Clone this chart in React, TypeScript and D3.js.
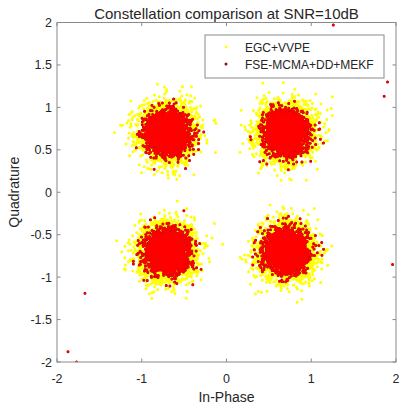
import React, { useMemo } from "react";
import * as d3 from "d3";

// ---- data ----
const title = "Constellation comparison at SNR=10dB";
const xLabel = "In-Phase";
const yLabel = "Quadrature";
const seriesNames = ["EGC+VVPE", "FSE-MCMA+DD+MEKF"];
const xTicks = [-2, -1, 0, 1, 2];
const yTicks = [-2, -1.5, -1, -0.5, 0, 0.5, 1, 1.5, 2];
// QPSK constellation centres (I, Q)
const centresI = [-0.7, 0.7, -0.7, 0.7];
const centresQ = [0.7, 0.7, -0.7, -0.7];
// cloud spread and count per cluster
const egcSigma = 0.16;
const egcCount = 3000;
const fseSigma = 0.115;
const fseCount = 3000;
// isolated FSE outliers
const fseOutI = [-1.87, -1.77, -1.67, 1.26, 1.56, 1.9, 1.86, 1.96];
const fseOutQ = [-1.88, -2.0, -1.19, 1.97, 1.36, 1.3, 1.13, -0.85];

function cloud(seed: number, sigma: number, n: number) {
  const rng = d3.randomLcg(seed);
  const norm = d3.randomNormal.source(rng)(0, sigma);
  const pts: [number, number][] = [];
  centresI.forEach((ci, k) => {
    for (let j = 0; j < n; j++) pts.push([ci + norm(), centresQ[k] + norm()]);
  });
  return pts;
}

function dots(pts: [number, number][], x: any, y: any, r: number) {
  return pts
    .map(([a, b]) => `M${(x(a) - r).toFixed(2)},${y(b).toFixed(2)}a${r},${r} 0 1,0 ${2 * r},0a${r},${r} 0 1,0 ${-2 * r},0`)
    .join("");
}

export default function App() {
  const W = 399, H = 408;
  const L = 57, R = 396, T = 22.5, B = 362;
  const x = d3.scaleLinear().domain([-2, 2]).range([L, R]);
  const y = d3.scaleLinear().domain([-2, 2]).range([B, T]);
  const font = "'Liberation Sans', Arial, Helvetica, sans-serif";
  const txt = "#262626";
  const axisCol = "#8a8a8a";
  const tk = 3.5;

  const egc = useMemo(() => cloud(0.1234, egcSigma, egcCount), []);
  const fse = useMemo(() => {
    const p = cloud(0.5678, fseSigma, fseCount);
    fseOutI.forEach((v, i) => p.push([v, fseOutQ[i]]));
    return p;
  }, []);

  const yellowPath = useMemo(() => dots(egc, x, y, 1.5), [egc]);
  const darkPath = useMemo(() => dots(fse, x, y, 1.5), [fse]);
  const redPath = useMemo(() => dots(fse, x, y, 1.2), [fse]);

  return (
    <svg width={W} height={H} style={{ position: "absolute", left: 0, top: 0, background: "#fff" }} fontFamily={font}>
      <defs>
        <clipPath id="plotclip">
          <rect x={L} y={T} width={R - L} height={B - T} />
        </clipPath>
      </defs>
      <rect x={0} y={0} width={W} height={H} fill="#fff" />
      <g clipPath="url(#plotclip)">
        <path d={yellowPath} fill="#ffff00" />
        <path d={darkPath} fill="#9a0a14" />
        <path d={redPath} fill="#ff0000" />
      </g>
      {/* axes box */}
      <rect x={L} y={T} width={R - L} height={B - T} fill="none" stroke={axisCol} strokeWidth={1} />
      {xTicks.map((t) => (
        <g key={"x" + t}>
          <line x1={x(t)} x2={x(t)} y1={B} y2={B - tk} stroke={axisCol} />
          <line x1={x(t)} x2={x(t)} y1={T} y2={T + tk} stroke={axisCol} />
          <text x={x(t)} y={B + 21} textAnchor="middle" fontSize={12.5} fill={txt}>{t}</text>
        </g>
      ))}
      {yTicks.map((t) => (
        <g key={"y" + t}>
          <line x1={L} x2={L + tk} y1={y(t)} y2={y(t)} stroke={axisCol} />
          <line x1={R} x2={R - tk} y1={y(t)} y2={y(t)} stroke={axisCol} />
          <text x={L - 5} y={y(t) + 4.5} textAnchor="end" fontSize={12.5} fill={txt}>{t}</text>
        </g>
      ))}
      <text x={(L + R) / 2} y={19} textAnchor="middle" fontSize={15} fill={txt}>{title}</text>
      <text x={(L + R) / 2} y={402} textAnchor="middle" fontSize={14} fill={txt}>{xLabel}</text>
      <text transform={`translate(19,${(T + B) / 2}) rotate(-90)`} textAnchor="middle" fontSize={14} fill={txt}>{yLabel}</text>
      {/* legend */}
      <rect x={205} y={35} width={179} height={43} fill="#fff" stroke={axisCol} />
      <circle cx={226} cy={47} r={1.4} fill="#ffff00" />
      <circle cx={226} cy={64} r={1.5} fill="#9a0a14" />
      <text x={245} y={51.5} fontSize={12} fill={txt}>{seriesNames[0]}</text>
      <text x={245} y={68.5} fontSize={12} fill={txt}>{seriesNames[1]}</text>
    </svg>
  );
}
